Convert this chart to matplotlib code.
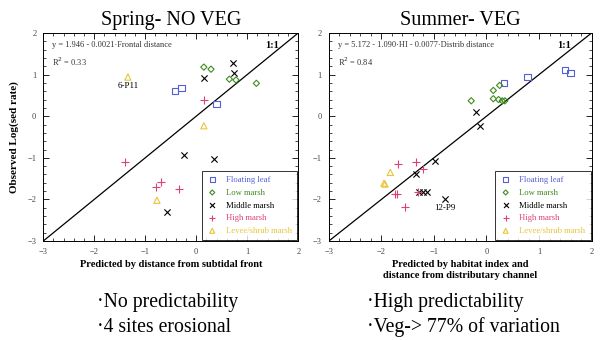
import matplotlib
matplotlib.use("Agg")
import matplotlib.pyplot as plt
from matplotlib.ticker import MultipleLocator

plt.rcParams["font.family"] = ["Liberation Serif", "DejaVu Serif"]

# Spring (no vegetation model)
spring_floating_x = [-0.42, -0.29, 0.40]
spring_floating_y = [0.60, 0.68, 0.29]
spring_low_x = [0.15, 0.29, 0.65, 0.78, 1.18]
spring_low_y = [1.18, 1.13, 0.89, 0.87, 0.79]
spring_middle_x = [0.72, 0.75, 0.16, -0.24, 0.35, -0.58]
spring_middle_y = [1.28, 1.04, 0.91, -0.94, -1.03, -2.29]
spring_high_x = [0.16, -1.39, -0.70, -0.79, -0.33]
spring_high_y = [0.38, -1.10, -1.57, -1.71, -1.76]
spring_levee_x = [-1.34, 0.15, -0.77]
spring_levee_y = [0.94, -0.23, -2.02]

# Summer (vegetation model)
summer_floating_x = [0.34, 0.78, 1.50, 1.60]
summer_floating_y = [0.80, 0.94, 1.11, 1.03]
summer_low_x = [-0.29, 0.13, 0.25, 0.13, 0.23, 0.30, 0.35]
summer_low_y = [0.37, 0.62, 0.74, 0.42, 0.40, 0.37, 0.37]
summer_middle_x = [-0.19, -0.13, -0.97, -1.35, -1.29, -1.21, -1.14, -0.79]
summer_middle_y = [0.11, -0.23, -1.08, -1.38, -1.83, -1.82, -1.81, -2.00]
summer_high_x = [-1.68, -1.35, -1.21, -1.31, -1.75, -1.70, -1.55]
summer_high_y = [-1.14, -1.11, -1.28, -1.81, -1.86, -1.86, -2.17]
summer_levee_x = [-1.83, -1.95, -1.93]
summer_levee_y = [-1.35, -1.61, -1.63]

labels = ["Floating leaf", "Low marsh", "Middle marsh", "High marsh", "Levee/shrub marsh"]
colors = ["#5560d8", "#3f8a1e", "#000000", "#e0407a", "#e8c53a"]
markers = ["s", "D", "x", "+", "^"]
sizes = [20, 10, 20, 28, 20]


def draw_panel(ax, groups, title, equation, r2, xlabel, note=None):
    ax.plot([-3, 2], [-3, 2], color="black", lw=0.9, zorder=1)
    handles = []
    for (xs, ys), lab, c, m, s in zip(groups, labels, colors, markers, sizes):
        if m in ("x", "+"):
            h = ax.scatter(xs, ys, marker=m, s=s, linewidths=0.8, color=c,
                           label=lab, zorder=3)
        else:
            h = ax.scatter(xs, ys, marker=m, s=s, linewidths=0.8,
                           facecolors="none", edgecolors=c, label=lab, zorder=3)
        handles.append(h)
    ax.set_xlim(-3, 2)
    ax.set_ylim(-3, 2)
    ax.xaxis.set_major_locator(MultipleLocator(1))
    ax.yaxis.set_major_locator(MultipleLocator(1))
    ax.xaxis.set_minor_locator(MultipleLocator(0.2))
    ax.yaxis.set_minor_locator(MultipleLocator(0.2))
    ax.tick_params(which="both", direction="in", top=True, right=True,
                   labelsize=6, labelcolor="#444444", pad=5)
    ax.tick_params(which="major", length=4, width=0.6)
    ax.tick_params(which="minor", length=2, width=0.5)
    for sp in ax.spines.values():
        sp.set_linewidth(0.7)
    ax.set_title(title, fontsize=14.5, pad=6)
    ax.set_xlabel(xlabel, fontsize=7.5, fontweight="bold", labelpad=3)
    ax.text(-2.82, 1.71, equation, fontsize=6, color="#333333", va="center")
    ax.text(-2.82, 1.30, r2, fontsize=6, color="#333333", va="center")
    ax.text(1.48, 1.71, "1:1", fontsize=7.5, fontweight="bold",
            ha="center", va="center")
    if note:
        ax.text(note[0], note[1], note[2], fontsize=6.5, ha="center")
    leg = ax.legend(handles=handles, loc="lower right", fontsize=6.2,
                    frameon=True, fancybox=False, edgecolor="black",
                    borderpad=0.6, labelspacing=0.55, handletextpad=1.0,
                    handlelength=1.2, borderaxespad=0.1, markerscale=0.8)
    leg.get_frame().set_linewidth(0.7)
    for t, c in zip(leg.get_texts(), colors):
        t.set_color(c)


fig = plt.figure(figsize=(6, 3.4), dpi=100)
ax1 = fig.add_axes([0.072, 0.291, 0.425, 0.612])
ax2 = fig.add_axes([0.548, 0.291, 0.438, 0.612])

draw_panel(ax1,
           [(spring_floating_x, spring_floating_y), (spring_low_x, spring_low_y),
            (spring_middle_x, spring_middle_y), (spring_high_x, spring_high_y),
            (spring_levee_x, spring_levee_y)],
           "Spring- NO VEG",
           "y = 1.946 - 0.0021\u00b7Frontal distance",
           "R$^2$ = 0.33",
           "Predicted by distance from subtidal front",
           note=(-1.34, 0.68, "6-P11"))
ax1.set_ylabel("Observed Log(sed rate)", fontsize=8, fontweight="bold", labelpad=6)

draw_panel(ax2,
           [(summer_floating_x, summer_floating_y), (summer_low_x, summer_low_y),
            (summer_middle_x, summer_middle_y), (summer_high_x, summer_high_y),
            (summer_levee_x, summer_levee_y)],
           "Summer- VEG",
           "y = 5.172 - 1.090\u00b7HI - 0.0077\u00b7Distrib distance",
           "R$^2$ = 0.84",
           "Predicted by habitat index and\ndistance from distributary channel",
           note=(-0.79, -2.25, "12-P9"))

fig.text(0.162, 0.097, "\u00b7No predictability", fontsize=14.2)
fig.text(0.162, 0.024, "\u00b74 sites erosional", fontsize=14.2)
fig.text(0.612, 0.097, "\u00b7High predictability", fontsize=14.2)
fig.text(0.612, 0.024, "\u00b7Veg-> 77% of variation", fontsize=14.2)

fig.savefig("out.png", dpi=100)
